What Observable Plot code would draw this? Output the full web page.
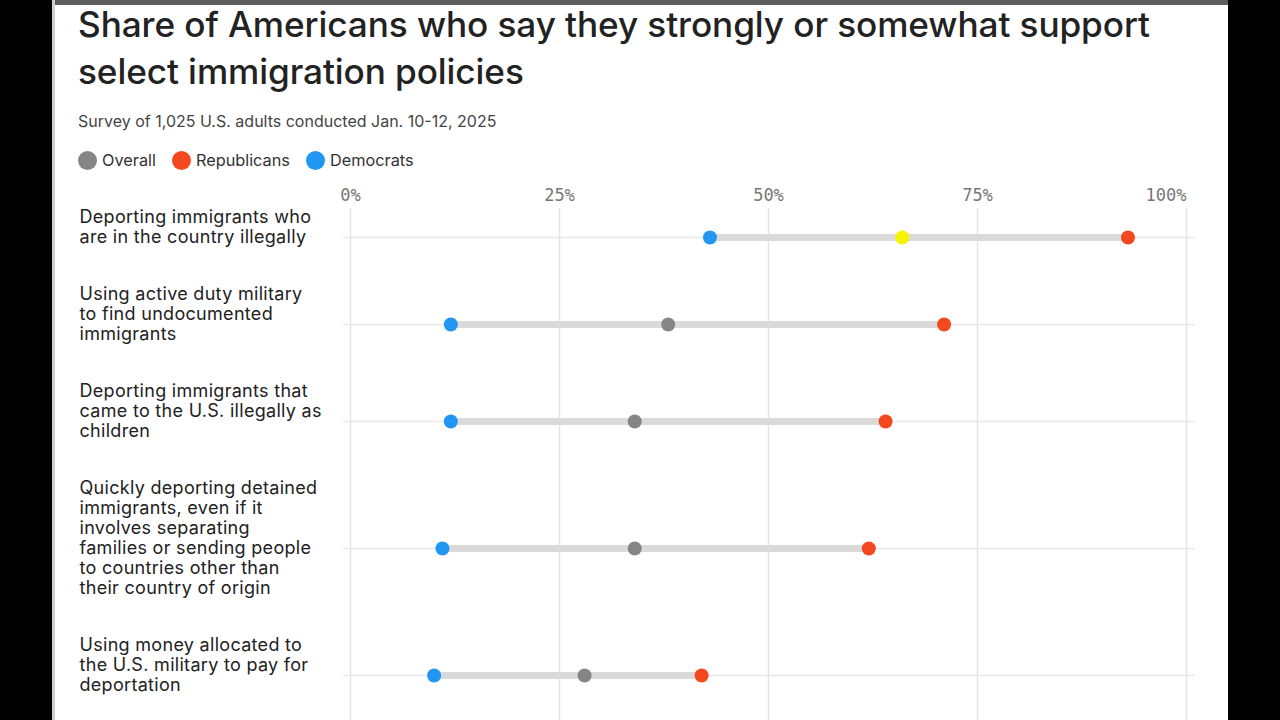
<!DOCTYPE html>
<html>
<head>
<meta charset="utf-8">
<script src="https://cdn.jsdelivr.net/npm/d3@7"></script>
<script src="https://cdn.jsdelivr.net/npm/@observablehq/plot@0.6"></script>
<style>
  html, body { margin: 0; padding: 0; background: #000; width: 1280px; height: 720px; overflow: hidden; }
  #panel { position: absolute; left: 52px; top: 0; width: 1176px; height: 720px; background: #fff; overflow: hidden; }
  #edge { position: absolute; left: 0; top: 0; width: 3px; height: 720px; background: #cfcfcf; }
  #topbar { position: absolute; left: 0; top: 0; width: 100%; height: 5px; background: #5c5c5c; }
  #title { position: absolute; left: 26px; top: 1px; width: 1110px; margin: 0; font: 500 35.2px/47px Inter, sans-serif; color: #222; letter-spacing: -0.1px; }
  #subtitle { position: absolute; left: 26px; top: 111px; margin: 0; font: 400 16px/20px Inter, sans-serif; color: #444; letter-spacing: 0; }
  #legend { position: absolute; left: 26px; top: 150px; display: flex; align-items: center; font: 400 16.3px/20px Inter, sans-serif; color: #333; }
  #legend .sw { display: inline-block; width: 19px; height: 19px; border-radius: 50%; margin-right: 5px; }
  #legend .lab { margin-right: 16px; }
  #chart { position: absolute; left: 0; top: 175px; }
</style>
</head>
<body>
<div id="panel">
  <div id="topbar"></div>
  <div id="edge"></div>
  <h1 id="title">Share of Americans who say they strongly or somewhat support select immigration policies</h1>
  <p id="subtitle">Survey of 1,025 U.S. adults conducted Jan. 10-12, 2025</p>
  <div id="legend"></div>
  <div id="chart"></div>
</div>
<script>
// ---- data ----
const policies = [
  "Deporting immigrants who\nare in the country illegally",
  "Using active duty military\nto find undocumented\nimmigrants",
  "Deporting immigrants that\ncame to the U.S. illegally as\nchildren",
  "Quickly deporting detained\nimmigrants, even if it\ninvolves separating\nfamilies or sending people\nto countries other than\ntheir country of origin",
  "Using money allocated to\nthe U.S. military to pay for\ndeportation"
];
const overall     = [66, 38, 34, 34, 28];
const republicans = [93, 71, 64, 62, 42];
const democrats   = [43, 12, 12, 11, 10];
const xTicks = [0, 25, 50, 75, 100];
const seriesNames = ["Overall", "Republicans", "Democrats"];
const highlightedRow = 0;

// ---- styles ----
const seriesColors = { Overall: "#858585", Republicans: "#f4481f", Democrats: "#2196f3" };
const highlightColor = "#f6f200";

// legend
const legend = document.getElementById("legend");
seriesNames.forEach(name => {
  const sw = document.createElement("span");
  sw.className = "sw"; sw.style.background = seriesColors[name];
  const lab = document.createElement("span");
  lab.className = "lab"; lab.textContent = name;
  legend.append(sw, lab);
});

// layout rows in "text line" units
const LINE = 20, PAD = 1.85;
let acc = 0;
const rows = policies.map((p, i) => {
  const lines = p.split("\n").length;
  const h = lines + PAD;
  const r = { policy: p, i, top: acc, center: acc + h / 2,
    Overall: overall[i], Republicans: republicans[i], Democrats: democrats[i] };
  acc += h;
  return r;
});
const total = acc;

const dots = rows.flatMap(r => ["Democrats", "Overall", "Republicans"].map(s => ({
  y: r.center, value: r[s], series: s,
  fill: (s === "Overall" && r.i === highlightedRow) ? highlightColor : seriesColors[s]
})));

const W = 1176, H = 545, top0 = 23.5;
const labelSize = 18;
const chart = Plot.plot({
  width: W, height: H,
  marginLeft: 298, marginRight: 42, marginTop: 33, marginBottom: 0,
  style: { fontFamily: "Inter, sans-serif", background: "transparent", overflow: "visible" },
  x: { domain: [0, 100], axis: null },
  y: { domain: [0, total], range: [top0, top0 + total * LINE], axis: null },
  color: { type: "identity" },
  marks: [
    Plot.gridX(xTicks, { stroke: "#e4e4e4", strokeOpacity: 1, strokeWidth: 1.5 }),
    Plot.ruleY(rows, { y: "center", stroke: "#e8e8e8", strokeWidth: 1.5, insetLeft: -7, insetRight: -9 }),
    Plot.ruleY(rows, {
      y: "center",
      x1: r => Math.min(r.Overall, r.Republicans, r.Democrats),
      x2: r => Math.max(r.Overall, r.Republicans, r.Democrats),
      stroke: "#dadada", strokeWidth: 7
    }),
    Plot.dot(dots, { x: "value", y: "y", r: 7, fill: "fill" }),
    Plot.text(rows, {
      y: r => r.top + 0.5, text: "policy", className: "policy-label",
      frameAnchor: "left", textAnchor: "start", lineAnchor: "top", dx: -271,
      fontSize: labelSize, lineHeight: 20 / labelSize, fill: "#222"
    }),
    Plot.axisX(xTicks.slice(0, -1), {
      anchor: "top", tickSize: 0, tickPadding: 8, label: null,
      tickFormat: d => d + "%", fontFamily: "DejaVu Sans Mono", fontSize: 17, fill: "#777"
    }),
    Plot.axisX(xTicks.slice(-1), {
      anchor: "top", tickSize: 0, tickPadding: 8, label: null, textAnchor: "end",
      tickFormat: d => d + "%", fontFamily: "DejaVu Sans Mono", fontSize: 17, fill: "#777"
    })
  ]
});
d3.select(chart).selectAll(".policy-label text").style("letter-spacing", "0.3px");
document.getElementById("chart").append(chart);
</script>
</body>
</html>
